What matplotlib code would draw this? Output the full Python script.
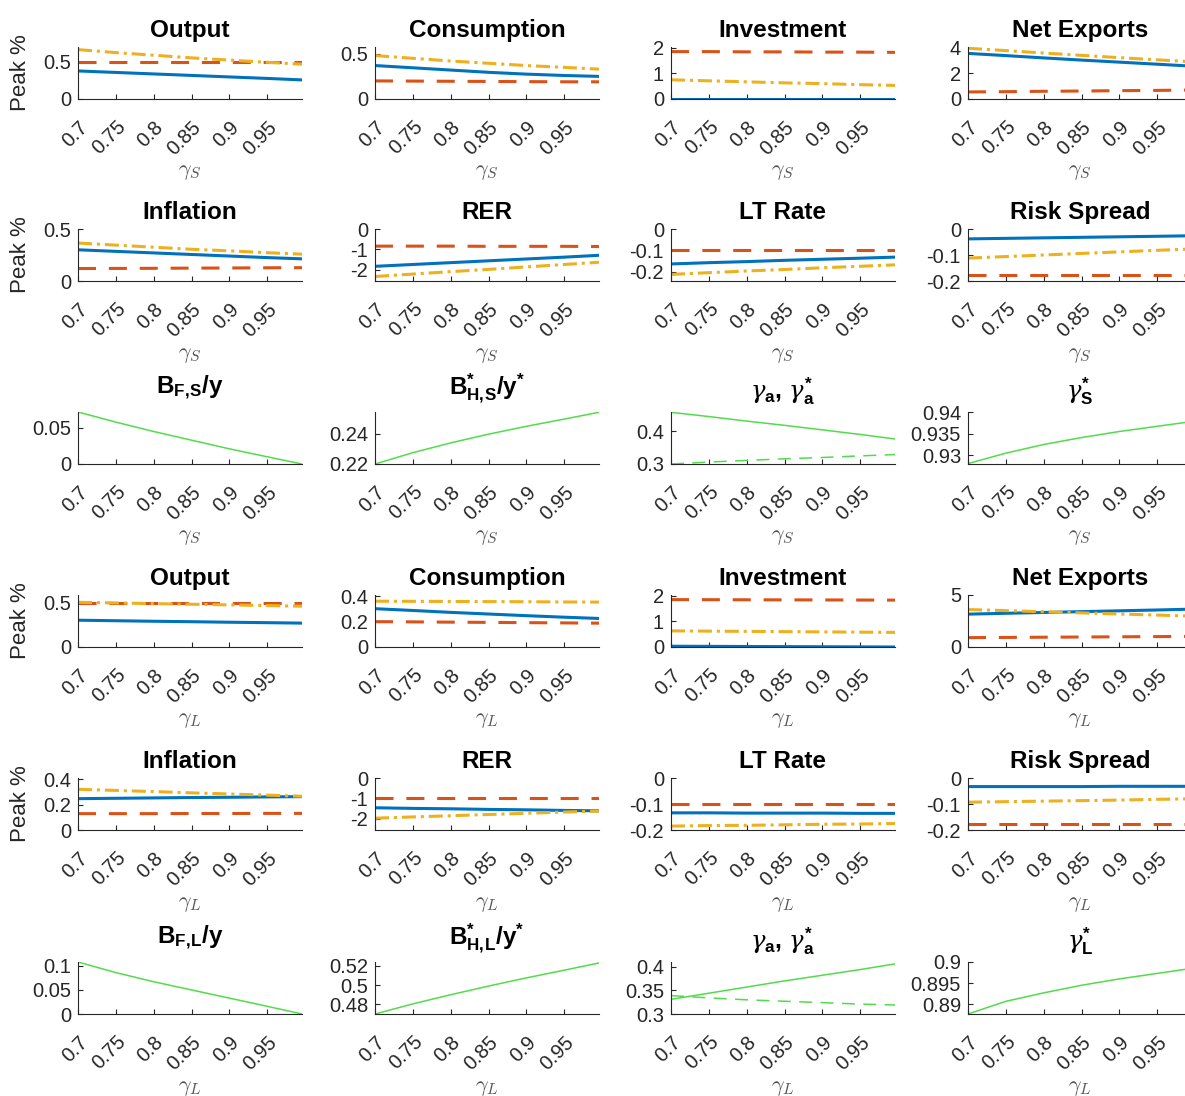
import matplotlib
matplotlib.use("Agg")
import matplotlib.pyplot as plt
from matplotlib.transforms import ScaledTranslation

plt.rcParams["font.family"] = ["Liberation Sans", "DejaVu Sans"]
plt.rcParams["axes.unicode_minus"] = False
plt.rcParams["mathtext.fontset"] = "custom"
plt.rcParams["mathtext.rm"] = "Liberation Sans"
plt.rcParams["mathtext.bf"] = "Liberation Sans:bold"
plt.rcParams["mathtext.it"] = "DejaVu Serif:italic"

# grid of persistence values
gamma = [0.70, 0.75, 0.80, 0.85, 0.90, 0.95, 0.996]
xticks = [0.7, 0.75, 0.8, 0.85, 0.9, 0.95]

# ---- gamma_S experiment, peak responses (%)
output_s_solid = [0.375, 0.355, 0.335, 0.315, 0.295, 0.275, 0.255]
output_s_dash = [0.50, 0.50, 0.50, 0.50, 0.50, 0.50, 0.50]
output_s_dashdot = [0.66, 0.62, 0.585, 0.55, 0.52, 0.49, 0.465]
cons_s_solid = [0.37, 0.345, 0.32, 0.295, 0.275, 0.26, 0.25]
cons_s_dash = [0.20, 0.198, 0.196, 0.194, 0.192, 0.19, 0.19]
cons_s_dashdot = [0.48, 0.45, 0.42, 0.395, 0.37, 0.35, 0.33]
inv_s_solid = [0.01, 0.01, 0.01, 0.01, 0.01, 0.01, 0.01]
inv_s_dash = [1.85, 1.85, 1.84, 1.84, 1.83, 1.83, 1.82]
inv_s_dashdot = [0.75, 0.71, 0.67, 0.63, 0.60, 0.56, 0.53]
nx_s_solid = [3.55, 3.38, 3.20, 3.03, 2.87, 2.71, 2.56]
nx_s_dash = [0.55, 0.57, 0.60, 0.62, 0.65, 0.67, 0.70]
nx_s_dashdot = [3.95, 3.77, 3.58, 3.40, 3.22, 3.05, 2.90]

infl_s_solid = [0.30, 0.285, 0.27, 0.255, 0.24, 0.225, 0.213]
infl_s_dash = [0.12, 0.121, 0.122, 0.124, 0.125, 0.127, 0.128]
infl_s_dashdot = [0.365, 0.345, 0.325, 0.305, 0.29, 0.272, 0.258]
rer_s_solid = [-1.83, -1.74, -1.65, -1.56, -1.47, -1.38, -1.29]
rer_s_dash = [-0.84, -0.84, -0.84, -0.85, -0.85, -0.85, -0.86]
rer_s_dashdot = [-2.33, -2.21, -2.09, -1.98, -1.86, -1.74, -1.63]
lt_s_solid = [-0.164, -0.158, -0.153, -0.147, -0.142, -0.137, -0.132]
lt_s_dash = [-0.10, -0.10, -0.10, -0.10, -0.10, -0.10, -0.10]
lt_s_dashdot = [-0.213, -0.205, -0.197, -0.19, -0.182, -0.175, -0.168]
rs_s_solid = [-0.038, -0.036, -0.034, -0.032, -0.030, -0.028, -0.026]
rs_s_dash = [-0.175, -0.175, -0.175, -0.175, -0.175, -0.175, -0.175]
rs_s_dashdot = [-0.112, -0.106, -0.10, -0.094, -0.088, -0.082, -0.077]

# ---- gamma_S experiment, portfolio and parameter paths
bf_s = [0.072, 0.058, 0.045, 0.033, 0.021, 0.010, 0.0]
bh_s = [0.220, 0.2275, 0.234, 0.2398, 0.2450, 0.2498, 0.2543]
ga_s = [0.459, 0.446, 0.432, 0.419, 0.405, 0.391, 0.377]
ga_star_s = [0.300, 0.306, 0.311, 0.316, 0.320, 0.325, 0.329]
gs_star = [0.9281, 0.9305, 0.9325, 0.9341, 0.9355, 0.9367, 0.9378]

# ---- gamma_L experiment, peak responses (%)
output_l_solid = [0.304, 0.298, 0.292, 0.287, 0.281, 0.276, 0.271]
output_l_dash = [0.50, 0.50, 0.50, 0.50, 0.50, 0.50, 0.50]
output_l_dashdot = [0.507, 0.50, 0.492, 0.485, 0.478, 0.47, 0.463]
cons_l_solid = [0.302, 0.288, 0.273, 0.26, 0.247, 0.235, 0.225]
cons_l_dash = [0.20, 0.198, 0.196, 0.194, 0.192, 0.19, 0.188]
cons_l_dashdot = [0.361, 0.36, 0.359, 0.358, 0.357, 0.355, 0.354]
inv_l_solid = [0.03, 0.025, 0.02, 0.015, 0.01, 0.005, 0.0]
inv_l_dash = [1.85, 1.847, 1.843, 1.84, 1.837, 1.833, 1.83]
inv_l_dashdot = [0.63, 0.62, 0.61, 0.60, 0.59, 0.58, 0.57]
nx_l_solid = [3.16, 3.24, 3.32, 3.40, 3.48, 3.56, 3.64]
nx_l_dash = [0.90, 0.92, 0.94, 0.96, 0.98, 1.00, 1.02]
nx_l_dashdot = [3.60, 3.50, 3.39, 3.28, 3.17, 3.07, 2.97]

infl_l_solid = [0.247, 0.25, 0.253, 0.256, 0.258, 0.261, 0.263]
infl_l_dash = [0.129, 0.129, 0.129, 0.13, 0.13, 0.131, 0.131]
infl_l_dashdot = [0.321, 0.312, 0.303, 0.293, 0.284, 0.275, 0.266]
rer_l_solid = [-1.46, -1.49, -1.51, -1.54, -1.56, -1.59, -1.61]
rer_l_dash = [-1.0, -1.0, -1.0, -1.0, -1.0, -1.0, -1.0]
rer_l_dashdot = [-1.97, -1.91, -1.85, -1.79, -1.73, -1.67, -1.62]
lt_l_solid = [-0.134, -0.134, -0.135, -0.135, -0.135, -0.136, -0.136]
lt_l_dash = [-0.10, -0.10, -0.10, -0.10, -0.10, -0.10, -0.10]
lt_l_dashdot = [-0.185, -0.183, -0.182, -0.18, -0.178, -0.177, -0.175]
rs_l_solid = [-0.033, -0.033, -0.033, -0.033, -0.032, -0.032, -0.032]
rs_l_dash = [-0.176, -0.176, -0.176, -0.176, -0.176, -0.176, -0.176]
rs_l_dashdot = [-0.093, -0.091, -0.089, -0.087, -0.085, -0.082, -0.08]

# ---- gamma_L experiment, portfolio and parameter paths
bf_l = [0.108, 0.086, 0.067, 0.050, 0.033, 0.016, 0.0]
bh_l = [0.470, 0.4805, 0.4900, 0.4990, 0.5075, 0.5155, 0.5230]
ga_l = [0.331, 0.344, 0.357, 0.370, 0.382, 0.394, 0.406]
ga_star_l = [0.339, 0.334, 0.330, 0.327, 0.324, 0.321, 0.319]
gl_star = [0.8877, 0.8907, 0.8927, 0.8945, 0.8960, 0.8973, 0.8985]

BLUE = dict(color="#0072BD", lw=2.2, ls="-")
RED = dict(color="#D95319", lw=2.2, ls=(0, (5.9, 4.2)))
YELLOW = dict(color="#EDB120", lw=2.2, ls=(0, (4.6, 1.6, 1.0, 1.6)))
GREEN = dict(color="#52dc4a", lw=1.1, ls="-")
GREEN_DASH = dict(color="#52dc4a", lw=1.1, ls=(0, (8.5, 5.5)))

W, H = 1185, 1096
col_left = [78, 375, 671, 968]
row_top = [47, 229, 412, 595, 778, 962]
ax_w, ax_h = 224, 52
AXC = "#262626"


def three(solid, dash, dashdot):
    return [(solid, BLUE), (dash, RED), (dashdot, YELLOW)]


# (row, col, title, lines, yticks, ylim, title pad)
panels = [
    (0, 0, "Output", three(output_s_solid, output_s_dash, output_s_dashdot), [0, 0.5], (0, 0.695), 7),
    (0, 1, "Consumption", three(cons_s_solid, cons_s_dash, cons_s_dashdot), [0, 0.5], (0, 0.575), 7),
    (0, 2, "Investment", three(inv_s_solid, inv_s_dash, inv_s_dashdot), [0, 1, 2], (0, 2.03), 7),
    (0, 3, "Net Exports", three(nx_s_solid, nx_s_dash, nx_s_dashdot), [0, 2, 4], (0, 4.05), 7),
    (1, 0, "Inflation", three(infl_s_solid, infl_s_dash, infl_s_dashdot), [0, 0.5], (0, 0.5), 7),
    (1, 1, "RER", three(rer_s_solid, rer_s_dash, rer_s_dashdot), [-2, -1, 0], (-2.55, 0), 7),
    (1, 2, "LT Rate", three(lt_s_solid, lt_s_dash, lt_s_dashdot), [-0.2, -0.1, 0], (-0.244, 0), 7),
    (1, 3, "Risk Spread", three(rs_s_solid, rs_s_dash, rs_s_dashdot), [-0.2, -0.1, 0], (-0.2, 0), 7),
    (2, 0, r"$\mathbf{B_{F,\!S}/y}$", [(bf_s, GREEN)], [0, 0.05], (0, 0.072), 13),
    (2, 1, r"$\mathbf{B^{*}_{H,\!S}/y^{*}}$", [(bh_s, GREEN)], [0.22, 0.24], (0.22, 0.2545), 13),
    (2, 2, r"$\gamma_{\mathbf{a}}\mathbf{,}\ \gamma^{\mathbf{*}}_{\mathbf{a}}$",
     [(ga_s, GREEN), (ga_star_s, GREEN_DASH)], [0.3, 0.4], (0.3, 0.46), 10),
    (2, 3, r"$\gamma^{\mathbf{*}}_{\mathbf{S}}$", [(gs_star, GREEN)], [0.93, 0.935, 0.94], (0.928, 0.94), 10),
    (3, 0, "Output", three(output_l_solid, output_l_dash, output_l_dashdot), [0, 0.5], (0, 0.59), 7),
    (3, 1, "Consumption", three(cons_l_solid, cons_l_dash, cons_l_dashdot), [0, 0.2, 0.4], (0, 0.41), 7),
    (3, 2, "Investment", three(inv_l_solid, inv_l_dash, inv_l_dashdot), [0, 1, 2], (0, 2.03), 7),
    (3, 3, "Net Exports", three(nx_l_solid, nx_l_dash, nx_l_dashdot), [0, 5], (0, 5.0), 7),
    (4, 0, "Inflation", three(infl_l_solid, infl_l_dash, infl_l_dashdot), [0, 0.2, 0.4], (0, 0.41), 7),
    (4, 1, "RER", three(rer_l_solid, rer_l_dash, rer_l_dashdot), [-2, -1, 0], (-2.55, 0), 7),
    (4, 2, "LT Rate", three(lt_l_solid, lt_l_dash, lt_l_dashdot), [-0.2, -0.1, 0], (-0.2, 0), 7),
    (4, 3, "Risk Spread", three(rs_l_solid, rs_l_dash, rs_l_dashdot), [-0.2, -0.1, 0], (-0.2, 0), 7),
    (5, 0, r"$\mathbf{B_{F,\!L}/y}$", [(bf_l, GREEN)], [0, 0.05, 0.1], (0, 0.108), 13),
    (5, 1, r"$\mathbf{B^{*}_{H,\!L}/y^{*}}$", [(bh_l, GREEN)], [0.48, 0.5, 0.52], (0.47, 0.524), 13),
    (5, 2, r"$\gamma_{\mathbf{a}}\mathbf{,}\ \gamma^{\mathbf{*}}_{\mathbf{a}}$",
     [(ga_l, GREEN), (ga_star_l, GREEN_DASH)], [0.3, 0.35, 0.4], (0.3, 0.41), 10),
    (5, 3, r"$\gamma^{\mathbf{*}}_{\mathbf{L}}$", [(gl_star, GREEN)], [0.89, 0.895, 0.9], (0.8877, 0.9), 10),
]

fig = plt.figure(figsize=(W / 100, H / 100), dpi=100)
# nudge rotated tick labels a little to the right of their ticks
shift = ScaledTranslation(5 / 72, 0, fig.dpi_scale_trans)

for row, col, title, lines, yticks, ylim, pad in panels:
    x0 = col_left[col] / W
    y0 = 1 - (row_top[row] + ax_h) / H
    ax = fig.add_axes([x0, y0, ax_w / W, ax_h / H])
    for vals, style in lines:
        ax.plot(gamma, vals, **style)

    ax.set_xlim(gamma[0], gamma[-1])
    ax.set_ylim(*ylim)
    ax.set_yticks(yticks)
    ax.set_yticklabels(["%g" % t for t in yticks])
    for side in ("top", "right"):
        ax.spines[side].set_visible(False)
    for side in ("left", "bottom"):
        ax.spines[side].set_color(AXC)
        ax.spines[side].set_linewidth(0.8)
    ax.tick_params(direction="in", length=3.5, width=0.8, colors=AXC, labelsize=14.5)
    ax.tick_params(axis="x", pad=18)
    ax.tick_params(axis="y", pad=5)

    ax.set_xticks(xticks)
    ax.set_xticklabels(["%g" % t for t in xticks], rotation=45, ha="right",
                       va="center", rotation_mode="anchor")
    for tick in ax.xaxis.get_major_ticks():
        tick.label1.set_transform(tick.label1.get_transform() + shift)

    ax.set_title(title, fontsize=17.5, fontweight="bold", pad=pad)

    sym = r"$\gamma_S$" if row < 3 else r"$\gamma_L$"
    ax.set_xlabel(sym, fontsize=16, color="#555555", math_fontfamily="cm", va="center")
    ax.xaxis.set_label_coords(0.5, -73 / ax_h)

    if col == 0 and row in (0, 1, 3, 4):
        ax.set_ylabel("Peak %", fontsize=16, color=AXC, va="center")
        ax.yaxis.set_label_coords(-(col_left[0] - 21) / ax_w, 0.5)

fig.savefig("out.png", dpi=100)
